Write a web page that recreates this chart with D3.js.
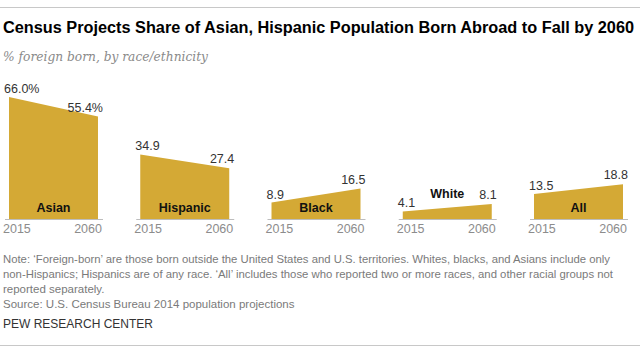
<!DOCTYPE html>
<html lang="en">
<head>
<meta charset="UTF-8">
<title>Foreign born share by race</title>
<script src="https://d3js.org/d3.v7.min.js"></script>
<style>
  body { margin: 0; background: #fff; }
  text { font-family: "Liberation Sans", Arial, sans-serif; }
</style>
</head>
<body>
<script>
// data
var groups = ["Asian", "Hispanic", "Black", "White", "All"];
var years = [2015, 2060];
var share2015 = [66.0, 34.9, 8.9, 4.1, 13.5];
var share2060 = [55.4, 27.4, 16.5, 8.1, 18.8];
var notes = [
  "Note: \u2018Foreign-born\u2019 are those born outside the United States and U.S. territories. Whites, blacks, and Asians include only",
  "non-Hispanics; Hispanics are of any race. \u2018All\u2019 includes those who reported two or more races, and other racial groups not",
  "reported separately.",
  "Source: U.S. Census Bureau 2014 population projections"
];

var width = 640, height = 353, base = 219;
var gold = "#D4A935";

var svg = d3.select("body").append("svg")
  .attr("width", width).attr("height", height);

// rules top and bottom
svg.append("line").attr("x1", 0).attr("x2", width).attr("y1", 7.5).attr("y2", 7.5)
  .attr("stroke", "#c8c8c8");
svg.append("line").attr("x1", 0).attr("x2", width).attr("y1", 345.5).attr("y2", 345.5)
  .attr("stroke", "#c8c8c8");

svg.append("text").attr("x", 3).attr("y", 33)
  .attr("textLength", 631).attr("lengthAdjust", "spacingAndGlyphs")
  .style("font-family", "'Liberation Sans Narrow', 'Arial Narrow', sans-serif")
  .style("font-weight", "bold").style("font-size", "16px").attr("fill", "#000")
  .text("Census Projects Share of Asian, Hispanic Population Born Abroad to Fall by 2060");

svg.append("text").attr("x", 3).attr("y", 61)
  .attr("textLength", 205).attr("lengthAdjust", "spacingAndGlyphs")
  .style("font-family", "'DejaVu Serif', Georgia, serif")
  .style("font-style", "italic").style("font-size", "13px").attr("fill", "#8a8a8a")
  .text("% foreign born, by race/ethnicity");

// panels
var panel = d3.scaleBand().domain(groups).range([9, 623]).paddingInner(0.322).paddingOuter(0);
var y = d3.scaleLinear().domain([0, 66]).range([base, 97]);

var rows = groups.map(function (g, i) {
  return { name: g, v: [share2015[i], share2060[i]] };
});

var g = svg.selectAll(".panel").data(rows).enter().append("g")
  .attr("class", "panel")
  .attr("transform", function (d) { return "translate(" + panel(d.name) + ",0)"; });

var x = d3.scaleLinear().domain(years).range([0, panel.bandwidth()]);

var area = d3.area()
  .x(function (d) { return x(d.year); })
  .y0(base)
  .y1(function (d) { return y(d.value); });

g.append("path")
  .attr("d", function (d) {
    return area(years.map(function (yr, k) { return { year: yr, value: d.v[k] }; }));
  })
  .attr("fill", gold);

g.append("line")
  .attr("x1", -4).attr("x2", panel.bandwidth() + 5)
  .attr("y1", base + 0.5).attr("y2", base + 0.5)
  .attr("stroke", "#bdbdbd");

// year labels
g.append("text").attr("x", -6).attr("y", 233)
  .attr("fill", "#8c8c8c").style("font-size", "12.5px").text(years[0]);
g.append("text").attr("x", panel.bandwidth() + 4).attr("y", 233)
  .attr("text-anchor", "end")
  .attr("fill", "#8c8c8c").style("font-size", "12.5px").text(years[1]);

// value labels
g.append("text").attr("x", -5)
  .attr("y", function (d) { return y(d.v[0]) - 4; })
  .attr("fill", "#333").style("font-size", "12.5px")
  .text(function (d, i) { return d.v[0].toFixed(1) + (i === 0 ? "%" : ""); });
g.append("text").attr("x", panel.bandwidth() + 5)
  .attr("y", function (d) { return y(d.v[1]) - 5; })
  .attr("fill", "#333").style("font-size", "12.5px")
  .each(function (d, i) {
    var t = d3.select(this);
    t.append("tspan").attr("text-anchor", "end").text(d.v[1].toFixed(1));
    if (i === 0) t.append("tspan").text("%");
  });

// group names: inside the area, or above it when the area is too flat
g.append("text")
  .attr("x", panel.bandwidth() / 2)
  .attr("y", function (d) {
    return d3.min(d.v) < 8 ? y(d3.mean(d.v)) - 10 : 212;
  })
  .attr("text-anchor", "middle")
  .attr("fill", "#111").style("font-weight", "bold").style("font-size", "12.5px")
  .text(function (d) { return d.name; });

// notes
var noteY = [263, 278, 292.5, 307.5];
var noteLen = [607, 610, null, null];
notes.forEach(function (s, i) {
  var t = svg.append("text").attr("x", 3).attr("y", noteY[i])
    .style("font-family", "'Liberation Sans Narrow', 'Arial Narrow', sans-serif")
    .style("font-size", "11.5px").attr("fill", "#7a7a7a").text(s);
  if (noteLen[i]) t.attr("textLength", noteLen[i]).attr("lengthAdjust", "spacingAndGlyphs");
});
svg.append("text").attr("x", 3).attr("y", 328)
  .style("font-family", "'Liberation Sans Narrow', 'Arial Narrow', sans-serif")
  .style("font-size", "12px").attr("fill", "#333").text("PEW RESEARCH CENTER");
</script>
</body>
</html>
